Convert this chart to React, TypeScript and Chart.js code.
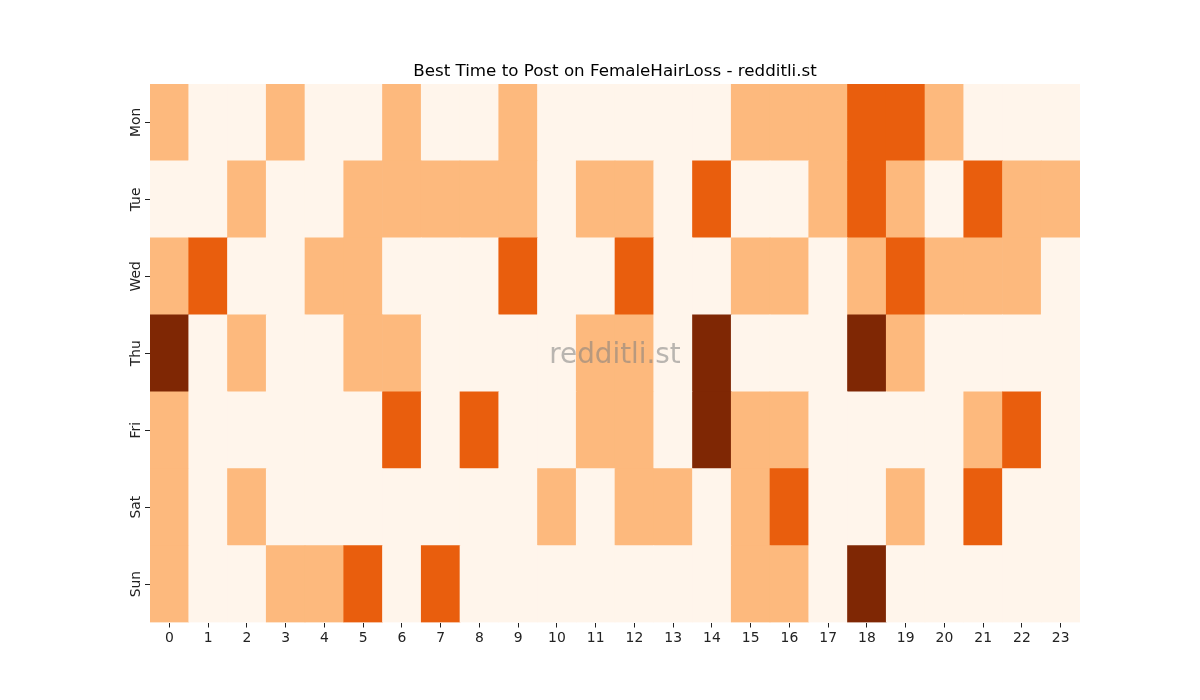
import React, { useEffect, useRef } from "react";
import Chart from "chart.js/auto";

const hours = Array.from({ length: 24 }, (_, i) => String(i));
const days = ["Mon", "Tue", "Wed", "Thu", "Fri", "Sat", "Sun"];

const mon = [1, 0, 0, 1, 0, 0, 1, 0, 0, 1, 0, 0, 0, 0, 0, 1, 1, 1, 2, 2, 1, 0, 0, 0];
const tue = [0, 0, 1, 0, 0, 1, 1, 1, 1, 1, 0, 1, 1, 0, 2, 0, 0, 1, 2, 1, 0, 2, 1, 1];
const wed = [1, 2, 0, 0, 1, 1, 0, 0, 0, 2, 0, 0, 2, 0, 0, 1, 1, 0, 1, 2, 1, 1, 1, 0];
const thu = [3, 0, 1, 0, 0, 1, 1, 0, 0, 0, 0, 1, 1, 0, 3, 0, 0, 0, 3, 1, 0, 0, 0, 0];
const fri = [1, 0, 0, 0, 0, 0, 2, 0, 2, 0, 0, 1, 1, 0, 3, 1, 1, 0, 0, 0, 0, 1, 2, 0];
const sat = [1, 0, 1, 0, 0, 0, 0, 0, 0, 0, 1, 0, 1, 1, 0, 1, 2, 0, 0, 1, 0, 2, 0, 0];
const sun = [1, 0, 0, 1, 1, 2, 0, 2, 0, 0, 0, 0, 0, 0, 0, 1, 1, 0, 3, 0, 0, 0, 0, 0];

const rows = [mon, tue, wed, thu, fri, sat, sun];
const levelColors = ["#fff5eb", "#fdb97d", "#e95e0d", "#7f2704"];

const titleText = "Best Time to Post on FemaleHairLoss - redditli.st";
const watermark = "redditli.st";
const FONT = "'DejaVu Sans', sans-serif";

export default function App() {
  const ref = useRef<HTMLCanvasElement | null>(null);
  useEffect(() => {
    if (!ref.current) return;
    // bottom-most row first for stacking
    const order = [...days.keys()].reverse();
    const datasets = order.map((di) => ({
      label: days[di],
      data: hours.map(() => 1),
      backgroundColor: rows[di].map((v) => levelColors[v]),
      borderWidth: 0,
      barPercentage: 1,
      categoryPercentage: 1,
    }));

    const overlay = {
      id: "overlay",
      afterDraw(chart: any) {
        const ctx = chart.ctx;
        const ca = chart.chartArea;
        const ys = chart.scales.y;
        ctx.save();
        // title
        ctx.fillStyle = "#000";
        ctx.font = `16.7px ${FONT}`;
        ctx.textAlign = "center";
        ctx.textBaseline = "alphabetic";
        ctx.fillText(titleText, (ca.left + ca.right) / 2, 76);
        // y labels
        ctx.font = `13.9px ${FONT}`;
        ctx.fillStyle = "#222";
        days.forEach((d, i) => {
          const cy = ys.getPixelForValue(6.5 - i);
          ctx.save();
          ctx.translate(139.5, cy);
          ctx.rotate(-Math.PI / 2);
          ctx.textAlign = "center";
          ctx.textBaseline = "alphabetic";
          ctx.fillText(d, 0, 0);
          ctx.restore();
        });
        // watermark
        ctx.font = `27.8px ${FONT}`;
        ctx.fillStyle = "rgba(128,128,128,0.55)";
        ctx.textAlign = "center";
        ctx.textBaseline = "alphabetic";
        ctx.fillText(watermark, (ca.left + ca.right) / 2, 362.5);
        ctx.restore();
      },
    };

    const chart = new Chart(ref.current, {
      type: "bar",
      data: { labels: hours, datasets },
      options: {
        animation: false,
        responsive: false,
        layout: { padding: { left: 130, right: 120, top: 84, bottom: 0 } },
        plugins: { legend: { display: false }, tooltip: { enabled: false }, title: { display: false } },
        scales: {
          x: {
            stacked: true,
            offset: true,
            border: { display: false },
            grid: { offset: false, drawOnChartArea: false, drawTicks: true, tickLength: 5, color: "#222", lineWidth: 1 },
            ticks: { color: "#222", font: { family: FONT, size: 13.9 }, padding: 3, maxRotation: 0, autoSkip: false },
            afterFit: (s: any) => {
              s.height = 77.5;
            },
          },
          y: {
            stacked: true,
            min: 0,
            max: 7,
            border: { display: false },
            grid: { drawOnChartArea: false, drawTicks: true, tickLength: 5, color: "#222", lineWidth: 1 },
            ticks: { display: false },
            afterBuildTicks: (s: any) => {
              s.ticks = [0.5, 1.5, 2.5, 3.5, 4.5, 5.5, 6.5].map((v) => ({ value: v }));
            },
            afterFit: (s: any) => {
              s.width = 20;
            },
          },
        },
      },
      plugins: [overlay],
    });
    return () => chart.destroy();
  }, []);
  return (
    <div style={{ position: "absolute", left: 0, top: 0, width: 1200, height: 700, background: "#fff" }}>
      <canvas ref={ref} width={1200} height={700} />
    </div>
  );
}
